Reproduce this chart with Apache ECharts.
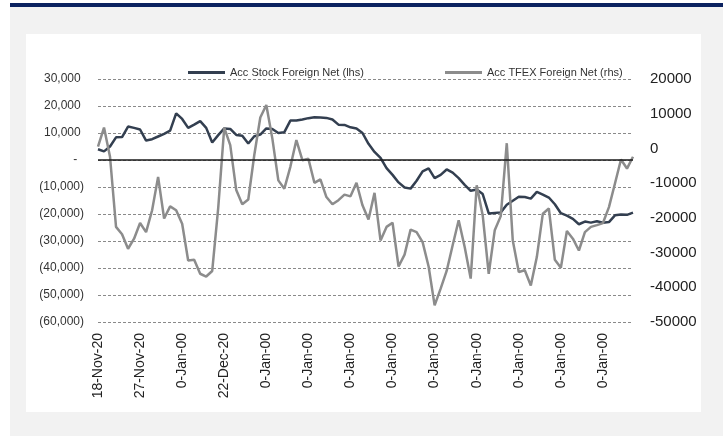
<!DOCTYPE html>
<html>
<head>
<meta charset="utf-8">
<script src="https://cdn.jsdelivr.net/npm/echarts@6/dist/echarts.min.js"></script>
<style>
  body { margin: 0; background: #ffffff; }
  #topbar { position: absolute; left: 10px; top: 3px; width: 713px; height: 4px; background: #0b2260; }
  #frame { position: absolute; left: 10px; top: 7px; width: 713px; height: 429px; background: #f2f2f2; }
  #panel { position: absolute; left: 26px; top: 34px; width: 675px; height: 378px; background: #ffffff; }
  #chart { position: absolute; left: 0; top: 0; width: 723px; height: 436px; }
</style>
</head>
<body>
<div id="topbar"></div>
<div id="frame"></div>
<div id="panel"></div>
<div id="chart"></div>
<script>
// tick labels shown every 7th trading day
const tickLabels = ["18-Nov-20", "27-Nov-20", "0-Jan-00", "22-Dec-20", "0-Jan-00", "0-Jan-00",
  "0-Jan-00", "0-Jan-00", "0-Jan-00", "0-Jan-00", "0-Jan-00", "0-Jan-00", "0-Jan-00"];
const labelStep = 7;

// Acc Stock Foreign Net (lhs)
const stockNet = [
  4000, 3200, 5000, 8400, 8500, 12400, 11900, 11300, 7200, 7700,
  8700, 9700, 10900, 17300, 15200, 11900, 13100, 14400, 11900, 6500,
  9200, 11700, 11500, 9300, 9000, 6100, 8800, 9400, 11700, 11500,
  10000, 10300, 14600, 14600, 15000, 15500, 15800, 15700, 15600, 15000,
  13100, 13000, 12100, 11700, 10000, 6000, 3000, 800, -3000, -5500,
  -8300, -10200, -10600, -7700, -4200, -3100, -6700, -5500, -3500, -4700,
  -6700, -9200, -11400, -10900, -12600, -19800, -19600, -19400, -16600, -15100,
  -13600, -13700, -14300, -11800, -12800, -13900, -16400, -19700, -20600, -21800,
  -23800, -22800, -23200, -22700, -23200, -23000, -20500, -20200, -20300, -19500
];

// Acc TFEX Foreign Net (rhs)
const tfexNet = [
  500, 6000, -2400, -22600, -24700, -28900, -26000, -21500, -24100, -17800,
  -8200, -20200, -16700, -17800, -21700, -32300, -32100, -36100, -36900, -35300,
  -17100, 6000, 950, -12000, -16100, -14700, -1900, 8900, 12500, 2900,
  -9200, -11600, -5300, 2400, -3400, -3000, -9900, -8900, -14000, -16100,
  -14900, -13300, -13800, -9900, -16400, -20500, -12800, -26500, -22600, -21400,
  -34000, -30600, -23400, -24100, -27000, -34000, -45200, -40400, -35300, -27900,
  -20700, -28400, -37500, -10600, -19300, -36100, -23600, -19500, 1500, -26500,
  -35600, -35100, -39500, -31300, -18800, -17300, -32100, -34400, -23800, -26000,
  -29400, -24100, -22600, -22100, -21500, -16900, -10100, -3200, -5800, -2400
];

const categories = stockNet.map((v, i) =>
  i % labelStep === 0 ? tickLabels[i / labelStep] : "d" + i);

const fontFamily = "'Liberation Sans', Arial, sans-serif";

function lhsFormat(v) {
  if (v === 0) return "-  ";
  const s = Math.abs(v).toLocaleString("en-US");
  return v < 0 ? "(" + s + ")" : s + " ";
}

const chart = echarts.init(document.getElementById("chart"));
const option = {
  animation: false,
  textStyle: { fontFamily: fontFamily },
  legend: [
    {
      left: 183,
      top: 62,
      icon: "rect",
      itemWidth: 37,
      itemHeight: 3,
      itemGap: 4,
      textStyle: { fontSize: 11, color: "#333", fontFamily: fontFamily },
      data: ["Acc Stock Foreign Net (lhs)"],
    },
    {
      left: 440,
      top: 62,
      icon: "rect",
      itemWidth: 37,
      itemHeight: 3,
      textStyle: { fontSize: 11, color: "#333", fontFamily: fontFamily },
      data: ["Acc TFEX Foreign Net (rhs)"],
    },
  ],
  grid: {
    left: 98,
    right: 90,
    top: 79,
    bottom: 114,
  },
  xAxis: {
    type: "category",
    boundaryGap: false,
    data: categories,
    axisLine: { show: false },
    axisTick: { show: false },
    axisLabel: {
      interval: labelStep - 1,
      rotate: 90,
      margin: 11,
      fontSize: 14,
      color: "#222",
    },
  },
  yAxis: [
    {
      type: "value",
      position: "left",
      min: -60000,
      max: 30000,
      interval: 10000,
      axisLine: { show: false },
      axisTick: { show: false },
      axisLabel: {
        fontSize: 12,
        color: "#333",
        margin: 14,
        formatter: lhsFormat,
      },
      splitLine: {
        lineStyle: { color: "#8a8a8a", type: [3, 2], width: 1 },
      },
    },
    {
      type: "value",
      position: "right",
      min: -50000,
      max: 20000,
      interval: 10000,
      axisLine: { show: false },
      axisTick: { show: false },
      splitLine: { show: false },
      axisLabel: {
        fontSize: 15,
        color: "#222",
        margin: 17,
        formatter: (v) => String(v),
      },
    },
  ],
  series: [
    {
      name: "Acc Stock Foreign Net (lhs)",
      type: "line",
      yAxisIndex: 0,
      showSymbol: false,
      color: "#333f50",
      lineStyle: { width: 2.5, color: "#333f50" },
      data: stockNet,
      markLine: {
        silent: true,
        symbol: "none",
        label: { show: false },
        lineStyle: { color: "#1a1a1a", type: "solid", width: 1.5 },
        data: [{ yAxis: 0 }],
      },
    },
    {
      name: "Acc TFEX Foreign Net (rhs)",
      type: "line",
      yAxisIndex: 1,
      showSymbol: false,
      color: "#8c8c8c",
      lineStyle: { width: 2.5, color: "#8c8c8c" },
      data: tfexNet,
    },
  ],
};
chart.setOption(option);
window.onresize = () => {
  chart.resize();
};
</script>
</body>
</html>
